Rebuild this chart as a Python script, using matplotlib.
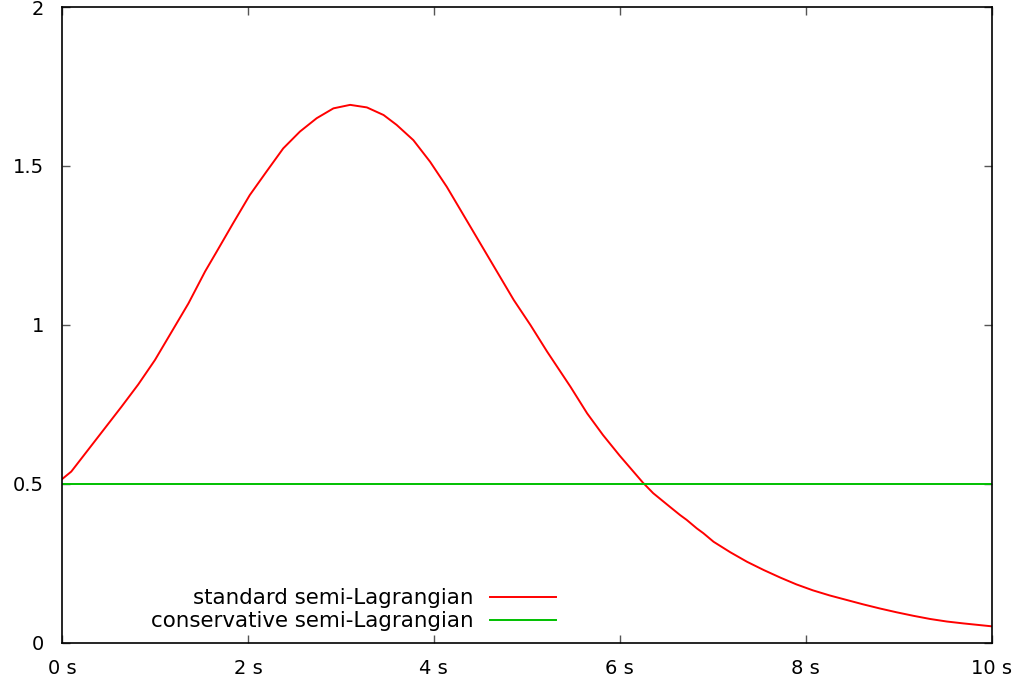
import matplotlib
matplotlib.use("Agg")
import matplotlib.pyplot as plt

# time (s) and value of the standard semi-Lagrangian curve
t_std = [0.0, 0.10, 0.28, 0.46, 0.64, 0.82, 1.0, 1.18, 1.36, 1.54, 1.66, 1.84,
         2.02, 2.20, 2.38, 2.56, 2.74, 2.92, 3.10, 3.28, 3.46, 3.60, 3.78, 3.96,
         4.14, 4.32, 4.50, 4.68, 4.86, 5.04, 5.22, 5.47, 5.65, 5.82,
         6.00, 6.25, 6.36, 6.54, 6.65, 6.72, 6.83, 6.90, 7.01, 7.19, 7.37,
         7.55, 7.73, 7.90, 8.08, 8.26, 8.44, 8.62, 8.80, 8.98, 9.16, 9.34, 9.52,
         9.70, 10.0]
v_std = [0.514, 0.538, 0.606, 0.674, 0.742, 0.812, 0.889, 0.978, 1.067, 1.168,
         1.228, 1.319, 1.408, 1.482, 1.555, 1.608, 1.650, 1.681, 1.692, 1.684,
         1.660, 1.629, 1.581, 1.513, 1.434, 1.345, 1.256, 1.167, 1.078, 0.999,
         0.915, 0.805, 0.721, 0.653, 0.588, 0.503, 0.470, 0.427,
         0.401, 0.386, 0.359, 0.344, 0.317, 0.284, 0.254, 0.228, 0.204,
         0.183, 0.164, 0.148, 0.134, 0.120, 0.107, 0.095, 0.084, 0.074, 0.066,
         0.060, 0.051]

# conservative semi-Lagrangian (constant)
t_con = [0.0, 10.0]
v_con = [0.5, 0.5]

x_ticks = [0, 2, 4, 6, 8, 10]
x_labels = ["0 s", "2 s", "4 s", "6 s", "8 s", "10 s"]
y_ticks = [0, 0.5, 1, 1.5, 2]
y_labels = ["0", "0.5", "1", "1.5", "2"]

plt.rcParams['font.family'] = ['DejaVu Sans']
fig = plt.figure(figsize=(10.18, 6.82), dpi=100)
ax = fig.add_axes([62 / 1018, (682 - 642.5) / 682, (991.5 - 62) / 1018, (642.5 - 7) / 682])

ax.plot(t_std, v_std, color="#ff0000", lw=1.4, label="standard semi-Lagrangian")
ax.plot(t_con, v_con, color="#00c000", lw=1.4, label="conservative semi-Lagrangian")

ax.set_xlim(0, 10)
ax.set_ylim(0, 2)
ax.set_xticks(x_ticks)
ax.set_xticklabels(x_labels)
ax.set_yticks(y_ticks)
ax.set_yticklabels(y_labels)
ax.tick_params(direction="in", length=6, width=1, top=True, right=True,
               labelsize=14, color="#555555")
ax.tick_params(axis="x", pad=12)
ax.tick_params(axis="y", pad=13)
for s in ax.spines.values():
    s.set_linewidth(1.2)
    s.set_color("black")

leg = ax.legend(loc="lower right", bbox_to_anchor=(556 / 1018, (682 - 631) / 682),
                bbox_transform=fig.transFigure, frameon=False, markerfirst=False,
                fontsize=15.4, handlelength=3.1, handletextpad=0.75,
                labelspacing=0.12, borderpad=0, borderaxespad=0)

fig.savefig("out.png", dpi=100)
